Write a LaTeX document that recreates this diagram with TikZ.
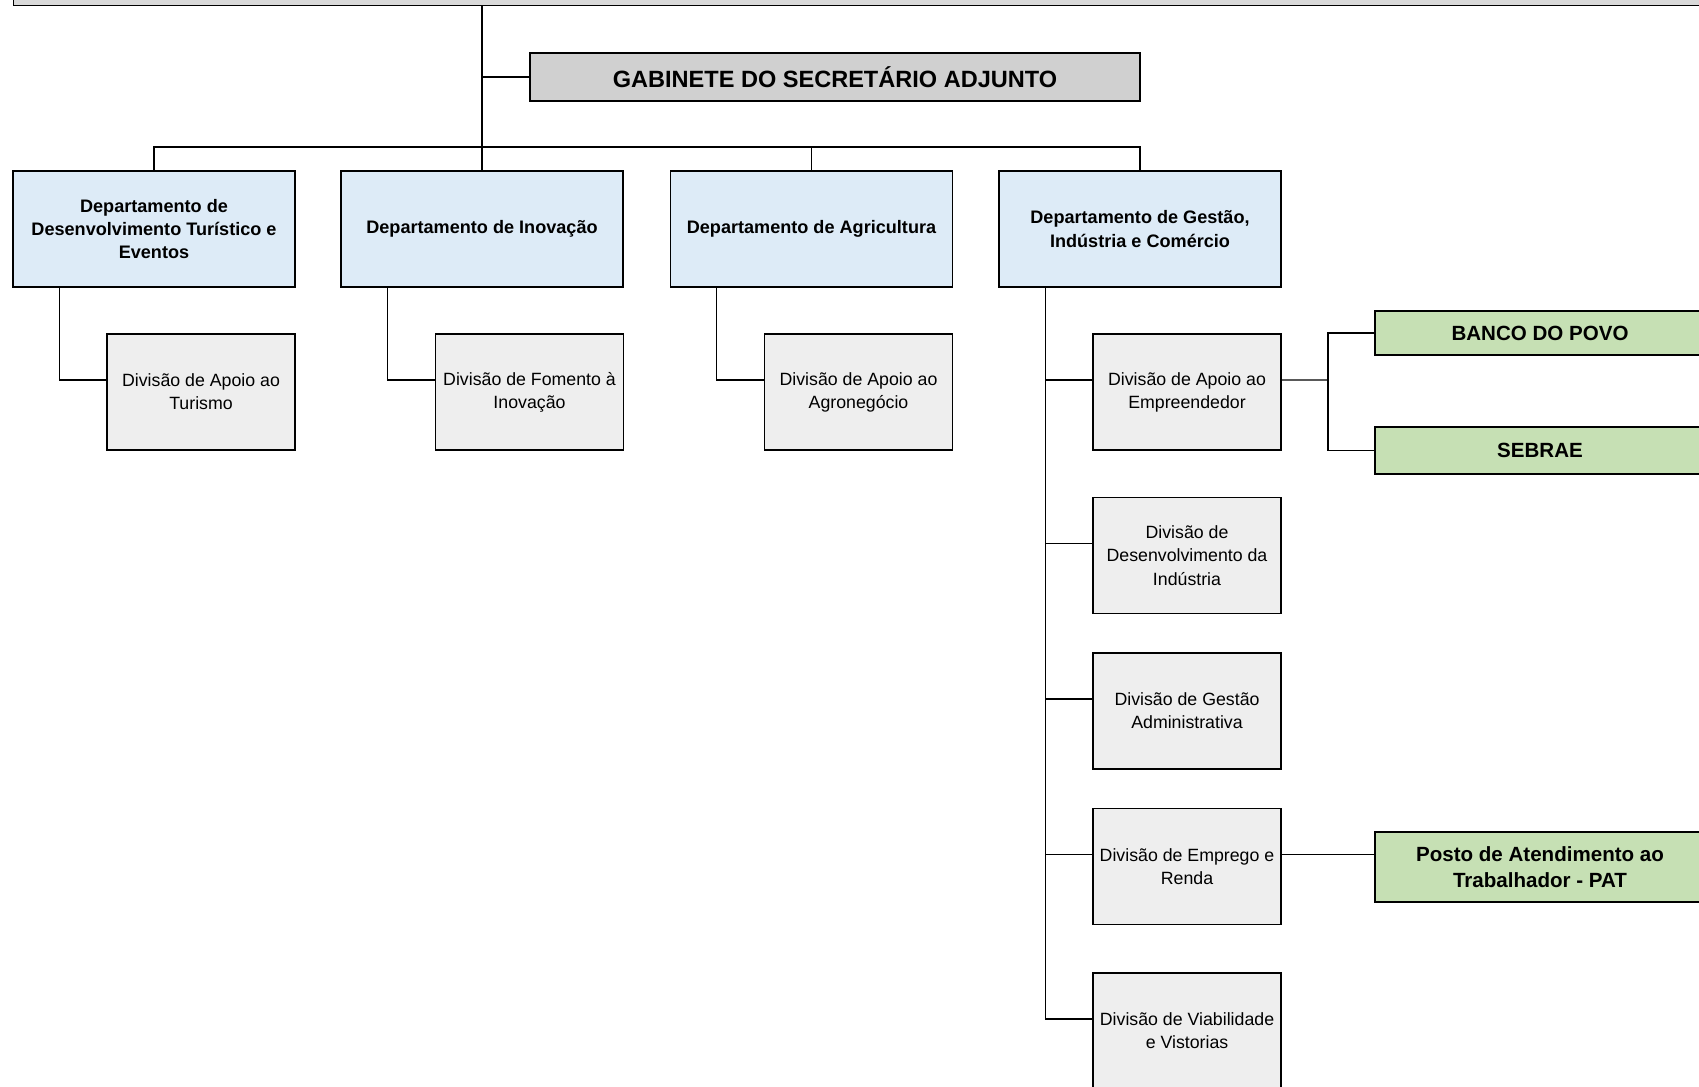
\documentclass[tikz,border=0pt]{standalone}
\usepackage{fontspec}
\setmainfont{Liberation Sans}
\usepackage{tikz}

\definecolor{secgray}{HTML}{D9D9D9}
\definecolor{gabgray}{HTML}{D0D0D0}
\definecolor{deptblue}{HTML}{DDEBF7}
\definecolor{divgray}{HTML}{EEEEEE}
\definecolor{progreen}{HTML}{C6E0B4}

\begin{document}
\begin{tikzpicture}[x=0.02cm, y=-0.02cm,
  box/.style={draw=black, line width=0.75pt, inner sep=0pt, align=center},
  topbox/.style={box, fill=secgray, minimum width=34.4cm, minimum height=1.02cm},
  gabbox/.style={box, fill=gabgray, minimum width=12.2cm, minimum height=0.96cm,
    font=\fontsize{13.4}{16}\selectfont\bfseries},
  deptbox/.style={box, fill=deptblue, minimum width=5.64cm, minimum height=2.32cm,
    font=\fontsize{10.3}{13.2}\selectfont\bfseries},
  divbox/.style={box, fill=divgray, minimum width=3.76cm, minimum height=2.32cm,
    font=\fontsize{10.1}{13.2}\selectfont},
  progbox/.style={box, fill=progreen, minimum width=6.6cm,
    font=\fontsize{11.7}{14.7}\selectfont\bfseries},
  link/.style={line width=0.6pt}]
\clip (0,0) rectangle (1699,1086);

% secretaria e gabinete
\node[topbox] (sec) at (873,-20) {};
\node[gabbox] (gab) at (835,77) {GABINETE DO SECRETÁRIO ADJUNTO};

% departamentos
\node[deptbox] (d1) at (154,229) {Departamento de\\Desenvolvimento Turístico e\\Eventos};
\node[deptbox] (d2) at (482,229) {Departamento de Inovação};
\node[deptbox] (d3) at (811.5,229) {Departamento de Agricultura};
\node[deptbox] (d4) at (1140,229) {Departamento de Gestão,\\Indústria e Comércio};

% divisoes
\node[divbox] (v1) at (201,392) {Divisão de Apoio ao\\Turismo};
\node[divbox] (v2) at (529.5,392) {Divisão de Fomento à\\Inovação};
\node[divbox] (v3) at (858.5,392) {Divisão de Apoio ao\\Agronegócio};
\node[divbox] (v4) at (1187,392) {Divisão de Apoio ao\\Empreendedor};
\node[divbox] (v5) at (1187,555.5) {Divisão de\\Desenvolvimento da\\Indústria};
\node[divbox] (v6) at (1187,711) {Divisão de Gestão\\Administrativa};
\node[divbox] (v7) at (1187,866.5) {Divisão de Emprego e\\Renda};
\node[divbox] (v8) at (1187,1031) {Divisão de Viabilidade\\e Vistorias};

% programas
\node[progbox, minimum height=0.88cm] (banco) at (1540,333) {BANCO DO POVO};
\node[progbox, minimum height=0.94cm] (sebrae) at (1540,450.5) {SEBRAE};
\node[progbox, minimum height=1.4cm] (pat) at (1540,867) {Posto de Atendimento ao\\Trabalhador - PAT};

% ligacoes
\coordinate (bus) at (482,147);
\coordinate (fork) at (1328,380);
\draw[link] (sec.south -| bus) -- (d2.north);
\draw[link] (gab.west) -- (gab.west -| bus);
\draw[link] (d1.north) |- (bus) -| (d4.north);
\draw[link] (d3.north) -- (d3.north |- bus);
\draw[link] ([xshift=0.94cm]d1.south west) |- ([yshift=0.24cm]v1.west);
\draw[link] ([xshift=0.94cm]d2.south west) |- ([yshift=0.24cm]v2.west);
\draw[link] ([xshift=0.94cm]d3.south west) |- ([yshift=0.24cm]v3.west);
\foreach \v in {v4,v5,v6,v7,v8}
  \draw[link] ([xshift=0.94cm]d4.south west) |- ([yshift=0.24cm]\v.west);
\draw[link] ([yshift=0.24cm]v4.east) -- (fork);
\draw[link] (banco.west) -| (fork);
\draw[link] (sebrae.west) -| (fork);
\draw[link] ([yshift=0.24cm]v7.east) -- ([yshift=0.24cm]v7.east -| pat.west);
\end{tikzpicture}
\end{document}
